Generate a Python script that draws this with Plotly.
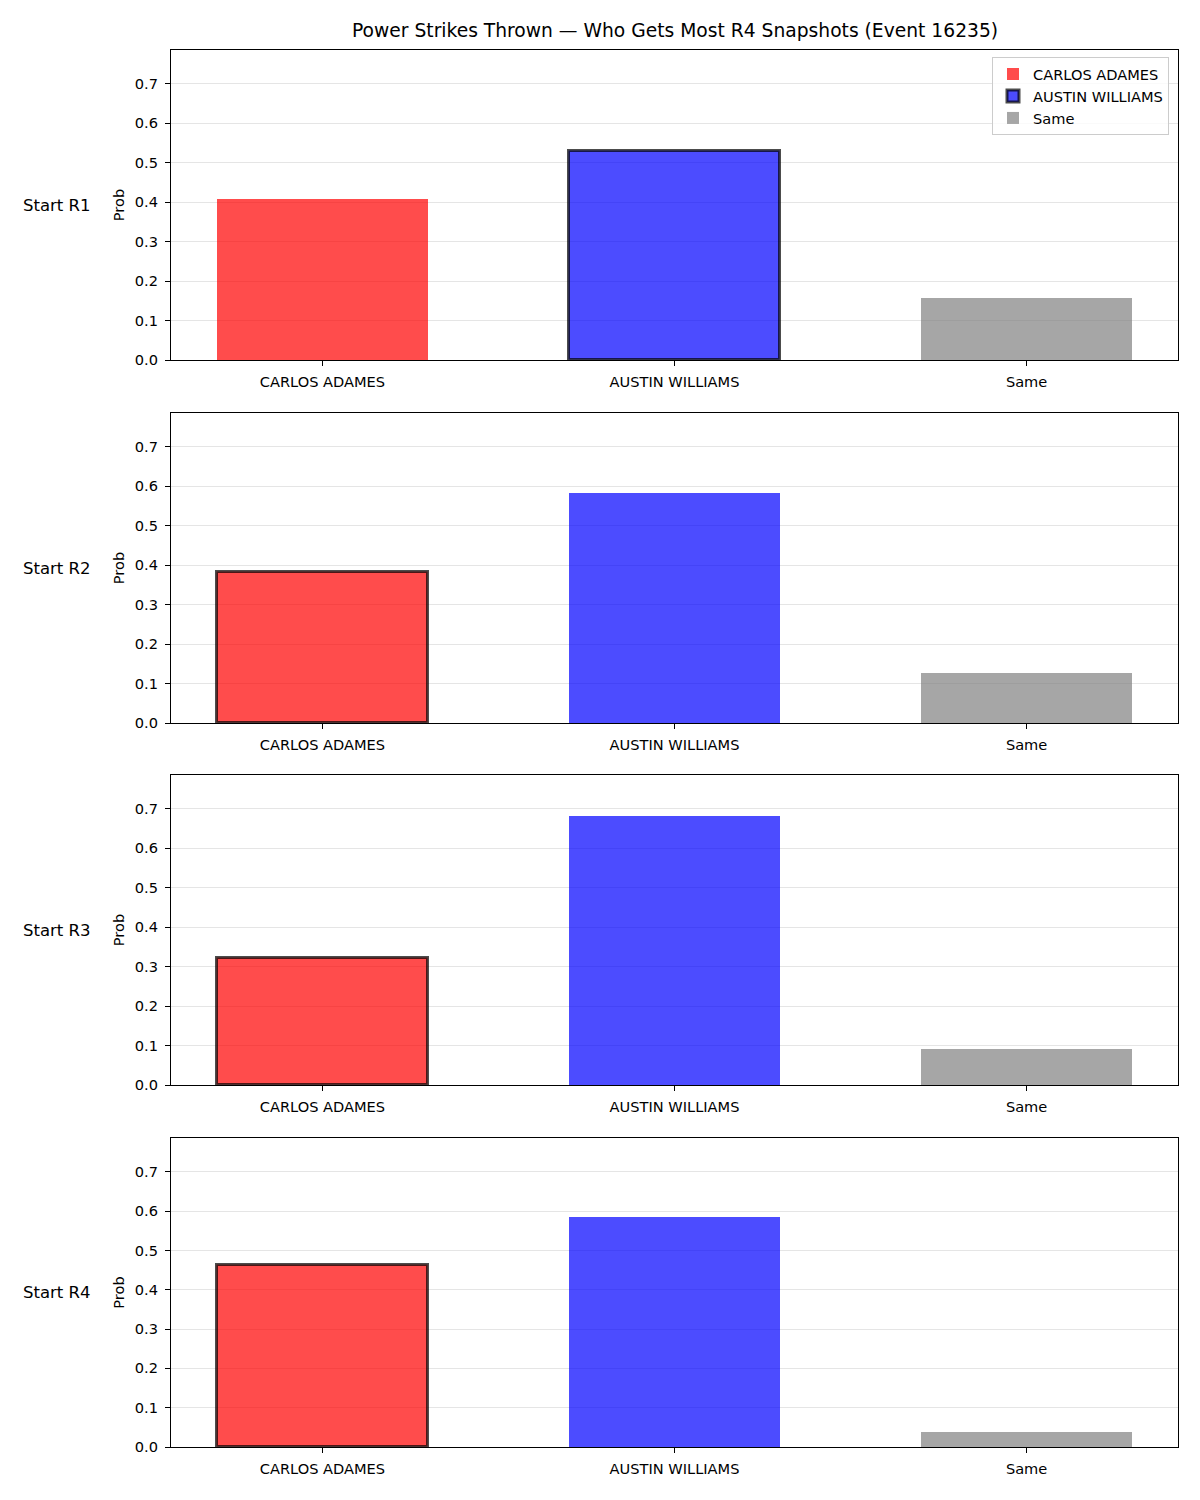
import plotly.graph_objects as go

title = "Power Strikes Thrown — Who Gets Most R4 Snapshots (Event 16235)"
categories = ["CARLOS ADAMES", "AUSTIN WILLIAMS", "Same"]
rounds = ["Start R1", "Start R2", "Start R3", "Start R4"]
carlos = [0.408, 0.384, 0.322, 0.464]
austin = [0.530, 0.584, 0.682, 0.586]
same = [0.157, 0.126, 0.091, 0.038]
highlight = ["AUSTIN WILLIAMS", "CARLOS ADAMES", "CARLOS ADAMES", "CARLOS ADAMES"]
yticks = [0.0, 0.1, 0.2, 0.3, 0.4, 0.5, 0.6, 0.7]

colors = {"CARLOS ADAMES": "rgba(255,0,0,0.7)",
          "AUSTIN WILLIAMS": "rgba(0,0,255,0.7)",
          "Same": "rgba(128,128,128,0.7)"}

W, H = 1200, 1500
HE = 1492  # effective layout height used for mapping pixels
left, right = 171, 1178
panels = [(50, 360), (413, 723), (775, 1085), (1138, 1447)]

fig = go.Figure()
font = "DejaVu Sans"
fs = 14.6
annotations = []
for i, rnd in enumerate(rounds):
    vals = {"CARLOS ADAMES": carlos[i], "AUSTIN WILLIAMS": austin[i], "Same": same[i]}
    xa = "x" if i == 0 else f"x{i+1}"
    ya = "y" if i == 0 else f"y{i+1}"
    for c in categories:
        hl = (c == highlight[i])
        fig.add_trace(go.Bar(
            x=[c], y=[vals[c]], name=c, width=0.6,
            marker=dict(color=colors[c],
                        line=dict(color="rgba(0,0,0,0.7)" if hl else "rgba(0,0,0,0)",
                                  width=3 if hl else 0)),
            showlegend=(i == 0), xaxis=xa, yaxis=ya, legendgroup=c,
        ))
    top, bot = panels[i]
    dom = [1 - bot / HE, 1 - top / HE]
    axcommon = dict(showline=True, linecolor="black", linewidth=1.2, mirror=True,
                    ticks="outside", ticklen=5, tickcolor="black",
                    tickfont=dict(family=font, size=fs, color="black"))
    fig.layout[f"xaxis{'' if i == 0 else i+1}"] = dict(
        domain=[left / W, right / W], anchor=ya, type="category",
        categoryorder="array", categoryarray=categories,
        range=[-0.43, 2.43], showgrid=False, ticklabelstandoff=3, **axcommon)
    fig.layout[f"yaxis{'' if i == 0 else i+1}"] = dict(
        domain=dom, anchor=xa, range=[0, 0.786], tickvals=yticks,
        ticktext=[f"{v:.1f}" for v in yticks], showgrid=True,
        gridcolor="rgba(0,0,0,0.1)", gridwidth=1, zeroline=False,
        layer="above traces", ticklabelstandoff=4,
        title=dict(text="Prob", font=dict(family=font, size=fs, color="black"), standoff=6),
        **axcommon)
    annotations.append(dict(text=rnd, x=57 / W, y=1 - (top + bot) / 2 / HE,
                            xref="paper", yref="paper", showarrow=False,
                            xanchor="center", yanchor="middle",
                            font=dict(family=font, size=16.5, color="black")))

annotations.append(dict(text=title, x=(left + right) / 2 / W, y=1 - 31 / HE,
                        xref="paper", yref="paper", showarrow=False,
                        xanchor="center", yanchor="middle",
                        font=dict(family=font, size=18.7, color="black")))

fig.update_layout(
    width=W, height=H, margin=dict(l=0, r=0, t=0, b=0),
    plot_bgcolor="white", paper_bgcolor="white", bargap=0,
    annotations=annotations,
    legend=dict(x=1169 / W, y=1 - 57 / HE, xanchor="right", yanchor="top",
                bgcolor="rgba(255,255,255,0.8)", bordercolor="#cccccc", borderwidth=1,
                font=dict(family=font, size=fs, color="black"),
                tracegroupgap=0, itemwidth=30),
    showlegend=True,
)
fig.write_html("out.html")
